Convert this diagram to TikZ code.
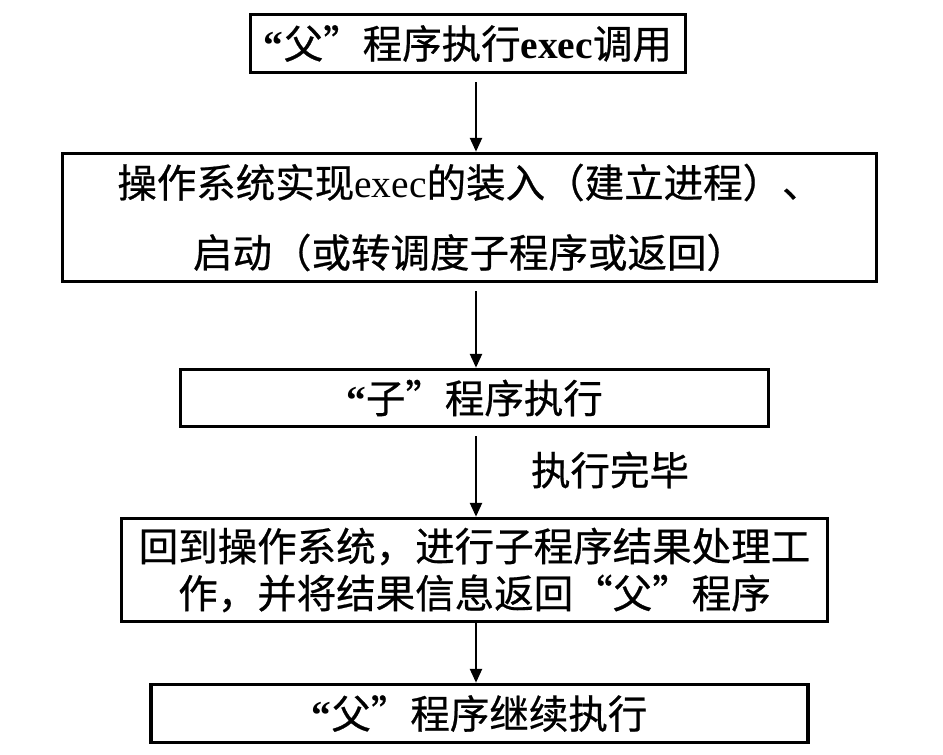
\documentclass[tikz,border=0pt]{standalone}
\usepackage{fontspec}
\setmainfont{Noto Sans CJK SC}[FakeBold=0.6]
\newfontfamily\tnr{Liberation Serif}
\usetikzlibrary{arrows.meta}
\newcommand{\openq}{{\tnr\bfseries “}}
\begin{document}
\begin{tikzpicture}[x=1pt,y=-1pt,
  box/.style={draw, line width=3.5pt, inner sep=0pt, align=center},
  flow/.style={line width=2.5pt, -{Triangle[length=14pt,width=12pt]}},
  txt/.style={font=\fontsize{39.5}{46}\selectfont}]
\useasboundingbox (0,0) rectangle (943,755);
\coordinate (ax) at (476,0);
\node[box, txt, minimum width=435pt, minimum height=58pt] (b1) at (468,43.5)
  {\openq 父”程序执行{\tnr\bfseries exec}调用};
\node[box, font=\fontsize{39.5}{70}\selectfont, minimum width=814pt, minimum height=128pt] (b2) at (469.5,217.5)
  {操作系统实现{\tnr exec}的装入（建立进程）、\\启动（或转调度子程序或返回）};
\node[box, txt, minimum width=588pt, minimum height=57pt] (b3) at (474.5,398)
  {\openq 子”程序执行};
\node[box, font=\fontsize{39.5}{47}\selectfont, minimum width=706pt, minimum height=103pt] (b4) at (474.5,570)
  {回到操作系统，进行子程序结果处理工\\作，并将结果信息返回“父”程序};
\node[box, txt, minimum width=657pt, minimum height=58pt] (b5) at (479.5,713.5)
  {\openq 父”程序继续执行};
\node[txt] (lbl) at (610,470) {执行完毕};
\draw[flow, shorten <=8pt] (b1.south -| ax) -- (b2.north -| ax);
\draw[flow, shorten <=8pt] (b2.south -| ax) -- (b3.north -| ax);
\draw[flow, shorten <=8pt] (b3.south -| ax) -- (b4.north -| ax);
\draw[flow] (b4.south -| ax) -- (b5.north -| ax);
\end{tikzpicture}
\end{document}
